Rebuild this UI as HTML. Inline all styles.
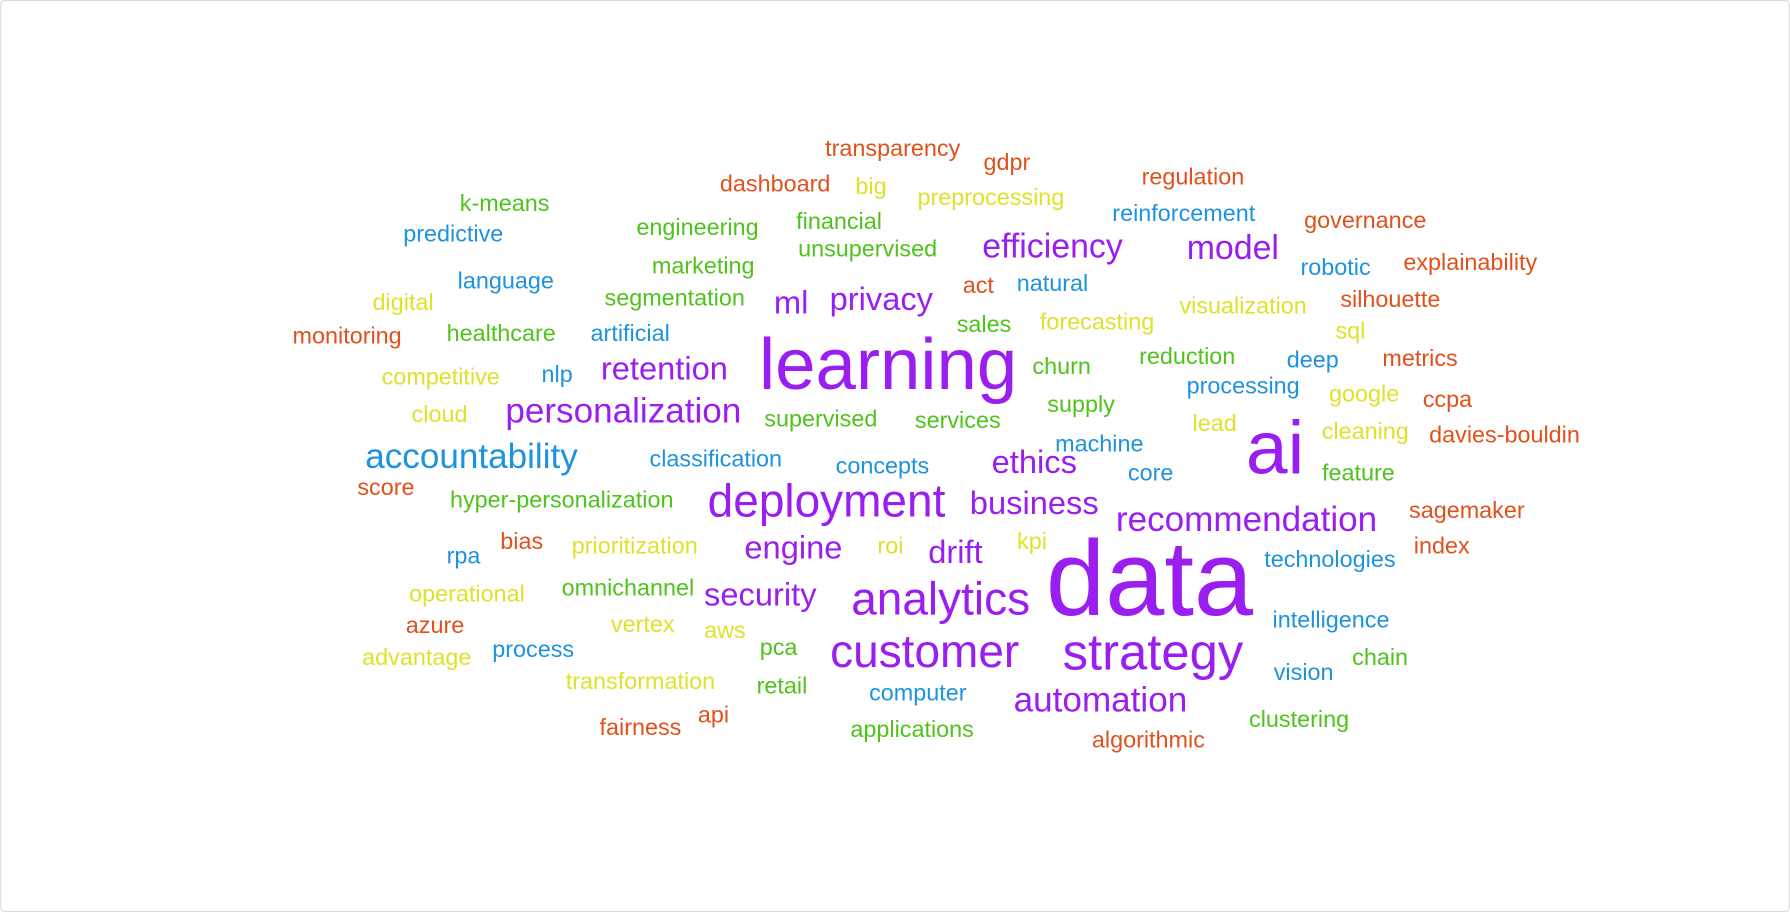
<!DOCTYPE html>
<html><head><meta charset="utf-8"><style>
html,body{margin:0;padding:0;background:#fff;}
#wrap{width:1790px;height:912px;overflow:hidden;position:relative;}
svg{position:absolute;left:0;top:0;}
text{font-family:"Liberation Sans",sans-serif;}
</style></head><body>
<div id="wrap">
<svg id="cloud" width="1790" height="912" viewBox="0 0 1568 799">
<rect x="0.5" y="0.5" width="1567" height="798" rx="3" fill="#fff" stroke="#dcdcdc"/>
</svg>
</div>
<script>
const COLORS={p:"#9b1ef0",b:"#1d93df",g:"#4fc31c",y:"#dde22a",o:"#e0511b"};
const words=["transparency","gdpr","dashboard","big","preprocessing","regulation","k-means","reinforcement","governance","predictive","engineering","financial","efficiency","model","unsupervised","marketing","robotic","explainability","language","act","natural","segmentation","ml","privacy","visualization","silhouette","digital","monitoring","healthcare","artificial","sales","forecasting","sql","learning","reduction","deep","metrics","competitive","nlp","retention","churn","processing","google","ccpa","cloud","personalization","supervised","services","supply","lead","cleaning","davies-bouldin","accountability","classification","concepts","ethics","machine","core","ai","feature","score","hyper-personalization","deployment","business","recommendation","sagemaker","bias","prioritization","engine","roi","drift","kpi","index","rpa","technologies","data","operational","omnichannel","security","analytics","azure","vertex","aws","intelligence","customer","strategy","advantage","process","pca","chain","vision","transformation","retail","computer","automation","fairness","api","clustering","applications","algorithmic"];
const weights=[19,19,19,19,19,19,19,19,19,19,19,19,28,28,19,19,19,19,19,19,19,19,27,27,19,19,19,19,19,19,19,19,19,60,19,19,19,19,19,27,19,19,19,19,19,29,19,19,19,19,19,19,29,19,19,27,19,19,62,19,19,19,38,27,29,19,19,19,27,19,27,19,19,19,19,88,19,19,27,38,19,19,19,19,38,42,19,19,19,19,19,19,19,19,29,19,19,19,19,19];
const colorKeys=["o","o","o","y","y","o","g","b","o","b","g","g","p","p","g","g","b","o","b","o","b","g","p","p","y","o","y","o","g","b","g","y","y","p","g","b","o","y","b","p","g","b","y","o","y","p","g","g","g","y","y","o","b","b","b","p","b","b","p","g","o","g","p","p","p","o","o","y","p","y","p","y","o","b","b","p","y","g","p","p","o","y","y","b","p","p","y","b","g","g","b","y","g","b","p","o","o","g","g","o"];
const xs=[782,882,679,763,868,1045,442,1037,1196,397,611,735,922,1080,760,616,1170,1288,443,857,922,591,693,772,1089,1218,353,304,439,552,862,961,1183,778,1040,1150,1244,386,488,582,930,1089,1195,1268,385,546,719,839,947,1064,1196,1318,413,627,773,906,963,1008,1117,1190,338,492,724,906,1092,1285,457,556,695,780,837,904,1263,406,1165,1007,409,550,666,824,381,563,635,1166,810,1010,365,467,682,1209,1142,561,685,804,964,561,625,1138,799,1006];
const ys=[130,142,161,163,173,155,178,187,193,205,199,194,216,217,218,233,234,230,246,250,248,261,265,262,268,262,265,294,292,292,284,282,290,320,312,315,314,330,328,323,321,338,345,350,363,360,367,368,354,371,378,381,400,402,408,405,389,414,393,414,427,438,439,441,455,447,474,478,480,478,484,474,478,487,490,508,520,515,521,525,548,547,552,543,571,572,576,569,567,576,589,597,601,607,613,637,626,630,639,648];
const svg=document.getElementById('cloud');
const NS="http://www.w3.org/2000/svg";
for(let i=0;i<words.length;i++){
  const t=document.createElementNS(NS,'text');
  const w=weights[i];
  const fs=(w<=19?20.5:w*1.06);
  t.setAttribute('x',xs[i]);
  t.setAttribute('y',ys[i]+fs*0.33);
  t.setAttribute('text-anchor','middle');
  t.setAttribute('font-size',fs);
  t.setAttribute('fill',COLORS[colorKeys[i]]);
  t.textContent=words[i];
  
  
  svg.appendChild(t);
}
</script>
</body></html>
